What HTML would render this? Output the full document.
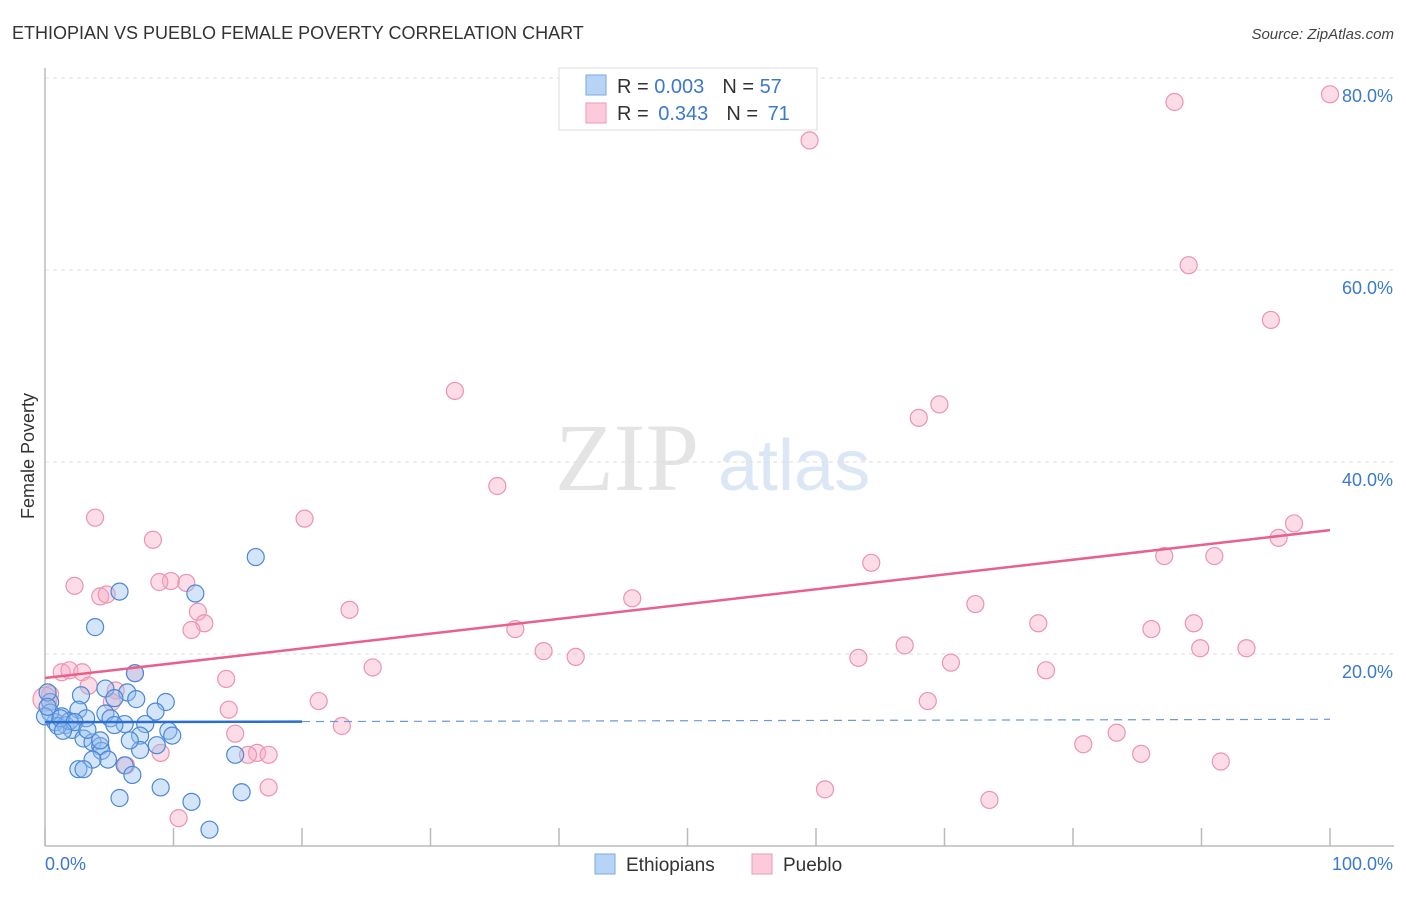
<!DOCTYPE html>
<html><head><meta charset="utf-8"><style>
body{margin:0;background:#fff;font-family:"Liberation Sans",sans-serif;}
</style></head><body>
<svg width="1406" height="892" xmlns="http://www.w3.org/2000/svg" font-family="Liberation Sans, sans-serif">
<text x="12" y="39" font-size="18" fill="#333">ETHIOPIAN VS PUEBLO FEMALE POVERTY CORRELATION CHART</text>
<text x="1394" y="39" font-size="15" fill="#444" text-anchor="end" font-style="italic">Source: ZipAtlas.com</text>
<text x="555" y="490" font-size="96" fill="#e4e4e4" font-family="Liberation Serif, serif">ZIP</text>
<text x="718" y="490" font-size="72" fill="#dbe7f5">atlas</text>
<g id="grid"></g>
<line x1="45" y1="68" x2="45" y2="846" stroke="#bbb" stroke-width="1.5"/>
<line x1="45" y1="846" x2="1394" y2="846" stroke="#bbb" stroke-width="1.5"/>
<text transform="translate(34,456) rotate(-90)" font-size="18" fill="#333" text-anchor="middle">Female Poverty</text>
<text x="45" y="870" font-size="18" fill="#3b78d0">0.0%</text>
<text x="1393" y="870" font-size="18" fill="#3b78d0" text-anchor="end">100.0%</text>
<g id="pts"></g>
<g id="lines"></g>
<g>
<rect x="559" y="68" width="258" height="62" fill="#fff" stroke="#ddd"/>
<rect x="586" y="75" width="20" height="20" fill="#b8d4f5" stroke="#7aa8e0"/>
<rect x="586" y="103" width="20" height="20" fill="#fccadb" stroke="#ee9ab5"/>
<text x="617" y="93" font-size="20" fill="#333">R = <tspan fill="#3b78d0">0.003</tspan><tspan dx="18">N = </tspan><tspan fill="#3b78d0">57</tspan></text>
<text x="617" y="120" font-size="20" fill="#333">R = <tspan fill="#3b78d0" dx="4">0.343</tspan><tspan dx="18">N = </tspan><tspan fill="#3b78d0" dx="4">71</tspan></text>
</g>
<g>
<rect x="595" y="854" width="20" height="20" fill="#b8d4f5" stroke="#7aa8e0"/>
<text x="626" y="871" font-size="19" fill="#333">Ethiopians</text>
<rect x="752" y="854" width="20" height="20" fill="#fccadb" stroke="#ee9ab5"/>
<text x="783" y="871" font-size="19" fill="#333">Pueblo</text>
</g>
</svg>
<script>
const yTicks=[20,40,60,80];
const xTicks=[0,10,20,30,40,50,60,70,80,90,100];
const blueX=[16.4,5.8,11.7,3.9,7,4.7,6.4,2.8,9.4,7.1,5.4,2.6,4.7,8.6,1.3,3.2,0.4,0.2,0.8,1.6,2.1,5.1,6.2,7.8,9.6,9.9,3,3.7,4.3,7.4,4.4,7.4,8.7,4.9,3.7,6.2,2.6,3,6.8,14.8,9,5.8,11.4,15.3,12.8,0.4,1,1.9,0,1.2,2.3,3.3,0.2,5.4,4.3,6.6,1.4];
const blueY=[30.1,26.5,26.3,22.8,18,16.4,16.0,15.7,15.0,15.3,15.4,14.2,13.8,14,13.5,13.3,15,16,12.9,12.6,12.1,13.3,12.7,12.7,12,11.5,11.2,10.8,10.4,11.5,9.9,10,10.5,9,9,8.4,8,8,7.4,9.5,6.1,5,4.6,5.6,1.7,13.9,12.5,13,13.5,13.3,12.9,12.1,14.5,12.6,11,11,12];
const pinkX=[100,87.9,59.5,89,95.4,31.9,69.6,68,35.2,3.9,20.2,97.2,96,8.4,87.1,91,64.3,2.3,9.8,11,8.9,4.3,4.8,45.7,72.4,23.7,11.9,12.4,11.4,89.4,77.3,86.1,36.6,66.9,89.9,93.5,38.8,41.3,63.3,70.5,1.3,1.9,2.9,77.9,25.5,7,14.1,3.4,5.5,68.7,21.3,5.2,14.3,23.1,14.8,80.8,83.4,9,16.5,17.4,15.8,85.3,6.3,91.5,17.4,60.7,73.5,10.4,0.4,0];
const pinkY=[78.3,77.5,73.5,60.5,54.8,47.4,46,44.6,37.5,34.2,34.1,33.6,32.1,31.9,30.2,30.2,29.5,27.1,27.6,27.4,27.5,26,26.2,25.8,25.2,24.6,24.4,23.2,22.5,23.2,23.2,22.6,22.6,20.9,20.6,20.6,20.3,19.7,19.6,19.1,18.1,18.3,18.1,18.3,18.6,18,17.4,16.7,16.2,15.1,15.1,15,14.2,12.5,11.7,10.6,11.8,9.7,9.7,9.5,9.5,9.6,8.4,8.8,6.1,5.9,4.8,2.9,15.8,15.3];
const pinkLine=[17.5,32.9], blueLine=[12.9,13.2];
const X=v=>45+v*12.85, Y=v=>846-v*9.6;
const NS='http://www.w3.org/2000/svg';
const grid=document.getElementById('grid'),pts=document.getElementById('pts'),lines=document.getElementById('lines');
function mk(tag,a,p){const e=document.createElementNS(NS,tag);for(const k in a)e.setAttribute(k,a[k]);p.appendChild(e);return e;}
yTicks.forEach(t=>{
const g=mk('line',{x1:45,x2:1394,y1:Y(t),y2:Y(t),stroke:'#ddd','stroke-dasharray':'4,4'},grid);


const l=mk('text',{x:1393,y:Y(t)+24,'font-size':18,fill:'#3b78d0','text-anchor':'end'},grid);


l.textContent=t.toFixed(1)+'%';
});
xTicks.forEach(t=>{
const k=mk('line',{x1:X(t),x2:X(t),y1:846,y2:828,stroke:'#bbb','stroke-width':1.5},grid);


});
pinkX.forEach((v,i)=>{
const c=mk('circle',{cx:X(v),cy:Y(pinkY[i]),r:i==pinkX.length-1?12:8.5,fill:'rgba(248,170,195,0.4)',stroke:'#ec93b0','stroke-width':1.2},pts);


});
blueX.forEach((v,i)=>{
const c=mk('circle',{cx:X(v),cy:Y(blueY[i]),r:8.5,fill:'rgba(150,190,240,0.4)',stroke:'#4a88d8','stroke-width':1.2},pts);


});
const pl=mk('line',{x1:X(0),y1:Y(pinkLine[0]),x2:X(100),y2:Y(pinkLine[1]),stroke:'#e8618c','stroke-width':2.5},lines);


const bm=blueLine[0]+(blueLine[1]-blueLine[0])*0.2;
const bl=mk('line',{x1:X(0),y1:Y(blueLine[0]),x2:X(20),y2:Y(bm),stroke:'#2a6fd0','stroke-width':2.5},lines);


const bd=mk('line',{x1:X(20),y1:Y(bm),x2:X(100),y2:Y(blueLine[1]),stroke:'#6a9ad8','stroke-width':1.2,'stroke-dasharray':'8,6'},lines);


</script>
</body></html>
